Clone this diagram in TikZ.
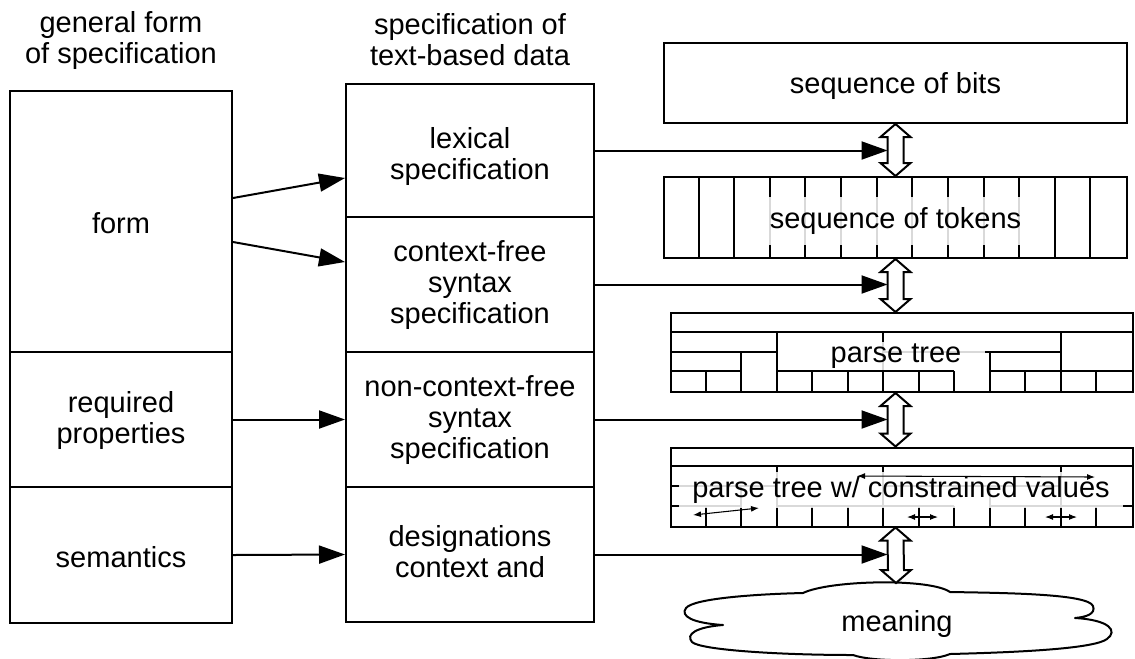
\documentclass[tikz,border=0pt]{standalone}
\usepackage{fontspec}
\setmainfont{Liberation Sans}
\usetikzlibrary{arrows.meta,calc,fit}

% hollow two-headed arrow between two points on one vertical
\newcommand\twoway[2]{%
  \draw[dblarrow] let \p1=(#1), \p2=(#2) in
    (\p1) -- ($(\p1)+(15,13)$) -- ($(\p1)+(8,13)$) -- ($(\p2)+(8,-13)$)
    -- ($(\p2)+(15,-13)$) -- (\p2) -- ($(\p2)+(-15,-13)$) -- ($(\p2)+(-8,-13)$)
    -- ($(\p1)+(-8,13)$) -- ($(\p1)+(-15,13)$) -- cycle;}

% cell width and row height of the tree boxes
\def\cellw{35.54}
\def\rowh{19.75}
% inner lines of a parse-tree box, drawn from its north west corner
\newcommand\treelines[1]{%
  \begin{scope}[shift={(#1.north west)}]
    \foreach \a/\b/\r in {0/13/1, 0/3/2, 6/11/2, 0/2/3, 3/8/3, 9/13/3}
      \draw[grid] (\a*\cellw,\r*\rowh) -- (\b*\cellw,\r*\rowh);
    \foreach \i/\r in {3/1, 6/1, 11/1, 2/2, 9/2, 8/3, 1/3, 4/3, 5/3, 7/3, 10/3, 12/3}
      \draw[grid] (\i*\cellw,\r*\rowh) -- (\i*\cellw,4*\rowh);
  \end{scope}}

\begin{document}
\begin{tikzpicture}[x=0.75pt,y=-0.75pt,
  every node/.style={font=\fontsize{21.75}{23.25}\selectfont},
  box/.style={draw,line width=1.5pt,inner sep=0pt},
  txt/.style={align=center,inner sep=0pt},
  flow/.style={line width=1.5pt,-{Triangle[length=19.5pt,width=13.5pt]}},
  dblarrow/.style={draw,line width=1.5pt,fill=white,line join=miter},
  grid/.style={line width=1.5pt},
  veil/.style={fill=white,fill opacity=0.85,text opacity=1,inner sep=0pt},
  span/.style={line width=0.8pt,{Latex[length=6pt,width=4.5pt]}-{Latex[length=6pt,width=4.5pt]}},
]
\useasboundingbox (0,0) rectangle (1135,658);

% column titles
\node[txt] (gtitle) at (121,40) {general form\\of specification};
\node[txt] (stitle) at (470,40) {specification of\\text-based data};

% general form of a specification
\node[box,fit={(10,91)(232,352)}] (form) {};
\node[box,fit={(10,352)(232,487)}] (req) {};
\node[box,fit={(10,487)(232,623)}] (sem) {};
\node[txt] (formtext) at ($(form.center)+(0,2)$) {form};
\node[txt] (reqtext) at ($(req.center)+(0,1)$) {required\\properties};
\node[txt] (semtext) at ($(sem.center)+(0,2)$) {semantics};

% specification of text-based data
\node[box,fit={(346,84)(594,217)}] (lex) {};
\node[box,fit={(346,217)(594,352)}] (cf) {};
\node[box,fit={(346,352)(594,487)}] (ncf) {};
\node[box,fit={(346,487)(594,622)}] (dcs) {};
\node[txt] (lextext) at ($(lex.center)+(0,6)$) {lexical\\specification};
\node[txt] (cftext) at ($(cf.center)+(0,1)$) {context-free\\syntax\\specification};
\node[txt] (ncftext) at ($(ncf.center)+(0,1)$) {non-context-free\\syntax\\specification};
\node[txt] (dcstext) at ($(dcs.center)+(0,-3)$) {designations\\context and};

% form -> specification
\draw[flow] ($(form.east)+(0,-23.5)$) -- ($(lex.west)+(0,27.5)$);
\draw[flow] ($(form.east)+(0,20.5)$) -- ($(cf.west)+(0,-22.5)$);
\draw[flow] (req.east) -- (ncf.west);
\draw[flow] (sem.east) -- (dcs.west);

% levels of representation
\node[box,fit={(664,43)(1127,123)}] (bits) {};
\node[txt] (bitstext) at ($(bits.center)+(0,3)$) {sequence of bits};
\node[box,fit={(664,177)(1127,258)}] (tokens) {};
\foreach \i in {1,...,12}
  \draw[grid] ($(tokens.north west)+(\i*35.615,0)$) -- ($(tokens.south west)+(\i*35.615,0)$);
\node[veil,inner xsep=6pt,inner ysep=8pt] (toklabel) at (895.5,221) {sequence of tokens};

\node[box,fit={(671,313)(1133,392)}] (parse) {};
\treelines{parse}
\node[veil,inner xsep=18pt,inner ysep=1pt] (parselabel) at (896,356) {parse tree};

\node[box,fit={(671,447.5)(1133,526.5)}] (cstr) {};
\treelines{cstr}
\node[veil,inner xsep=10pt,inner ysep=3pt] (cstrlabel) at (901,490) {parse tree w/ constrained values};

% constraints between values
\coordinate (c1a) at (857,476);  \coordinate (c1b) at (1095,477);
\coordinate (c2a) at (693,515);  \coordinate (c2b) at (759,508);
\coordinate (c3a) at (907,517);  \coordinate (c3b) at (938,517);
\coordinate (c4a) at (1045,517); \coordinate (c4b) at (1077,517);
\draw[span] (c1a) -- (c1b);
\draw[span] (c2a) -- (c2b);
\draw[span] (c3a) -- (c3b);
\draw[span] (c4a) -- (c4b);

% meaning cloud
\draw[line width=1.5pt,line join=round]
  (803,593) .. controls (830,580) and (930,578) .. (950,592)
  .. controls (1010,593) and (1088,594) .. (1093,606)
  .. controls (1096,614) and (1086,617) .. (1075,618)
  .. controls (1110,620) and (1118,631) .. (1107,639)
  .. controls (1095,648) and (1030,652) .. (950,654)
  .. controls (932,662) and (872,662) .. (853,655)
  .. controls (780,655) and (700,650) .. (692,642)
  .. controls (685,634) and (697,627) .. (723,625)
  .. controls (692,623) and (680,616) .. (686,608)
  .. controls (694,598) and (760,594) .. (803,593) -- cycle;
\node (meaning) at (897,624) {meaning};
\coordinate (cloudtop) at (896,583);

% correspondences between levels
\twoway{bits.south}{tokens.north}
\twoway{tokens.south}{tokens.south |- parse.north}
\twoway{tokens.south |- parse.south}{tokens.south |- cstr.north}
\twoway{tokens.south |- cstr.south}{cloudtop}

% specification -> level it describes
\coordinate (shaftL) at (887.5,0);
\draw[flow] (lex.east) -- (lex.east -| shaftL);
\draw[flow] (cf.east) -- (cf.east -| shaftL);
\draw[flow] (ncf.east) -- (ncf.east -| shaftL);
\draw[flow] (dcs.east) -- (dcs.east -| shaftL);
\end{tikzpicture}
\end{document}
